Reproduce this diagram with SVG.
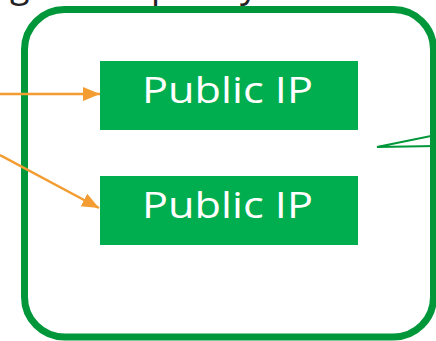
<svg xmlns="http://www.w3.org/2000/svg" width="436" height="341" viewBox="0 0 436 341">
<style>
.box{fill:#00AE4F}
.lbl{fill:#ffffff;font-family:"Open Sans","Noto Sans","Liberation Sans",sans-serif;font-size:36px;font-weight:400}
.conn{stroke:#F39C31;stroke-width:2.5;fill:none}
.title{fill:#222222;font-family:"Open Sans","Noto Sans","Liberation Sans",sans-serif;font-size:36px}
</style>
<defs>
<marker id="ah" markerUnits="userSpaceOnUse" markerWidth="18" markerHeight="16" refX="17" refY="7" orient="auto">
<path d="M0,0 L17,7 L0,14 Z" fill="#F39C31"/>
</marker>
</defs>
<rect width="436" height="341" fill="#ffffff"/>
<text class="title" y="-3.5"><tspan x="10">g</tspan><tspan x="151">p</tspan><tspan x="240">y</tspan></text>
<g id="container">
<rect x="24.5" y="9.5" width="409" height="327.5" rx="40" ry="40" fill="none" stroke="#00973A" stroke-width="7"/>
</g>
<g id="pip1">
<rect class="box" x="100" y="61" width="258" height="69"/>
<text class="lbl" x="142" y="103" textLength="171" lengthAdjust="spacingAndGlyphs">Public IP</text>
</g>
<g id="pip2">
<rect class="box" x="100" y="176" width="258" height="69"/>
<text class="lbl" x="142" y="218" textLength="171" lengthAdjust="spacingAndGlyphs">Public IP</text>
</g>
<g id="connectors">
<line class="conn" x1="0" y1="94" x2="100" y2="94" marker-end="url(#ah)"/>
<line class="conn" x1="0" y1="155" x2="99" y2="208" marker-end="url(#ah)"/>
<polyline points="436,135 377,147 436,146" fill="none" stroke="#00973A" stroke-width="2"/>
</g>
</svg>
